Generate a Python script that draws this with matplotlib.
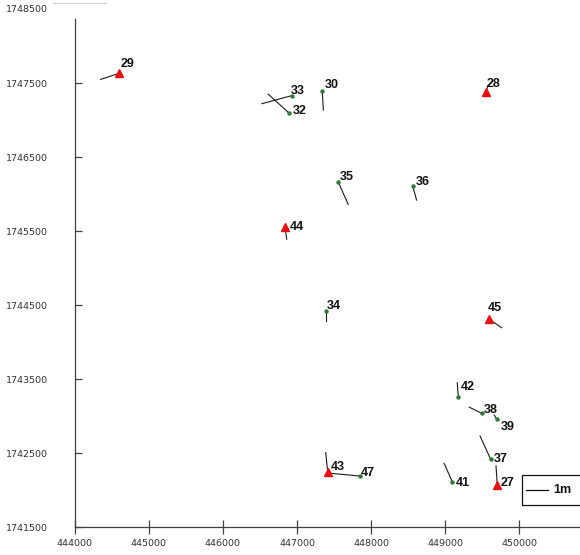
import matplotlib
matplotlib.use('Agg')
import matplotlib.pyplot as plt
from matplotlib.patches import Rectangle
from matplotlib.lines import Line2D

# GNSS stations: id, UTM easting / northing (m)
stations = ['27', '28', '29', '30', '32', '33', '34', '35', '36',
            '37', '38', '39', '41', '42', '43', '44', '45', '47']
easting = [449703, 449551, 444602, 447341, 446896, 446928, 447391, 447557, 448561,
           449614, 449492, 449695, 449096, 449177, 447414, 446838, 449595, 447850]
northing = [1742072, 1747379, 1747635, 1747396, 1747095, 1747333, 1744423, 1746166, 1746112,
            1742419, 1743041, 1742964, 1742116, 1743257, 1742251, 1745554, 1744311, 1742193]

# horizontal displacement of each station (m)
d_east = [-0.06, 0.08, -0.86, 0.05, -0.97, -1.37, 0.00, 0.46, 0.18,
          -0.49, -0.57, -0.12, -0.38, -0.05, -0.09, 0.08, 0.57, -1.30]
d_north = [0.88, 0.30, -0.28, -0.88, 0.88, -0.37, -0.45, -1.04, -0.65,
           1.07, 0.28, 0.18, 0.85, 0.67, 0.88, -0.55, -0.39, 0.12]

# reference (fixed) stations drawn as triangles
reference = ['27', '28', '29', '43', '44', '45']

xticks = [444000, 445000, 446000, 447000, 448000, 449000, 450000]
yticks = [1741500, 1742500, 1743500, 1744500, 1745500, 1746500, 1747500]
ytop_label = 1748500

VEC_SCALE = 293  # map units per metre of displacement

# label placement, pixels right / up from the station
label_off = {
    '27': (3, 2), '28': (1, 8), '29': (1, 9), '30': (2, 6), '32': (3, 2),
    '33': (-1, 5), '34': (1, 5), '35': (1, 5), '36': (3, 4), '37': (3, 0),
    '38': (2, 3), '39': (4, -8), '41': (3, -1), '42': (2, 10), '43': (3, 5),
    '44': (5, 0), '45': (-2, 11), '47': (1, 3),
}

fig = plt.figure(figsize=(5.8, 5.55), dpi=100)
ax = fig.add_axes([0.1288, 0.0499, 0.8712, 0.9159])
ax.set_xlim(444000, 450819)
ax.set_ylim(1741500, 1748369)

for s, e, n, de, dn in zip(stations, easting, northing, d_east, d_north):
    ax.plot([e, e + de * VEC_SCALE], [n, n + dn * VEC_SCALE],
            color='#1a1a1a', lw=0.8, zorder=2)
    if s in reference:
        ax.plot(e, n, marker='^', ms=6, color='#e81010', mec='#e81010', zorder=3)
    else:
        ax.plot(e, n, marker='o', ms=2.2, color='#2f7a3a', mec='#2f7a3a', zorder=3)
    ox, oy = label_off[s]
    ax.annotate(s, xy=(e, n), xytext=(ox * 0.72, oy * 0.72), textcoords='offset points',
                ha='left', va='center', fontsize=9, fontweight='bold',
                family='Liberation Sans', color='#111111', zorder=4)

# axes styling
for side in ['top', 'right']:
    ax.spines[side].set_visible(False)
for side in ['left', 'bottom']:
    ax.spines[side].set_color('#404040')
    ax.spines[side].set_linewidth(0.9)

ax.set_xticks(xticks)
ax.set_yticks(yticks)
ax.set_xticklabels([str(v) for v in xticks])
ax.set_yticklabels([str(v) for v in yticks])
ax.tick_params(axis='x', direction='inout', length=10.5, width=0.9, color='#404040',
               pad=3.2, labelsize=6.8, labelcolor='#333333')
ax.tick_params(axis='y', direction='in', length=5, width=0.9, color='#404040',
               pad=19.2, labelsize=6.8, labelcolor='#333333')
ax.annotate(str(ytop_label), xy=(0, ytop_label), xycoords=('axes fraction', 'data'),
            xytext=(-19.2, 0), textcoords='offset points', ha='right', va='center',
            fontsize=6.8, color='#333333', annotation_clip=False)

# scale legend: 1 m of displacement
ax.add_patch(Rectangle((0.8846, 0.0439), 0.2, 0.059, transform=ax.transAxes,
                       fill=False, ec='#111111', lw=0.9, clip_on=False))
leg_x0 = 450090
leg_y = 0.0734
leg_tr = ax.get_xaxis_transform()
ax.plot([leg_x0, leg_x0 + VEC_SCALE], [leg_y, leg_y], transform=leg_tr,
        color='#111111', lw=0.9, clip_on=False)
ax.annotate('1m', xy=(leg_x0 + VEC_SCALE, leg_y), xycoords=leg_tr,
            xytext=(4, 0), textcoords='offset points', ha='left', va='center',
            fontsize=9, fontweight='bold', family='Liberation Sans', color='#111111',
            annotation_clip=False)

# faint rule at the top-left
fig.add_artist(Line2D([53 / 580, 106 / 580], [1 - 3 / 555, 1 - 3 / 555],
                      color='#d0d0d0', lw=0.8))

fig.savefig('out.png', dpi=100)
